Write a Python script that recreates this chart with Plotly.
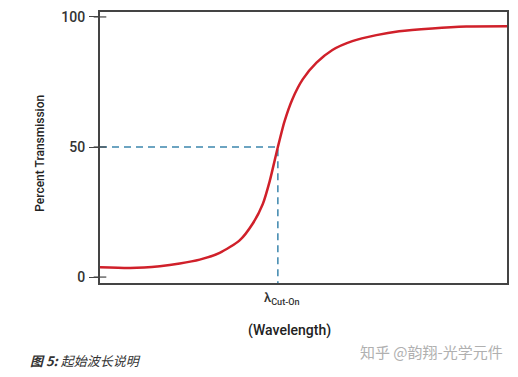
import plotly.graph_objects as go

# Data (arbitrary wavelength units, 0-100 across the plot)
wavelength = [0, 7.4, 14.7, 19.6, 24.5, 29.4, 34.3, 37.5, 40.0, 41.7, 43.7,
              45.3, 47.3, 49.8, 53.2, 57.1, 62.0, 67.9, 73.5, 81.6, 90.0, 100]
transmission = [3.8, 3.5, 4.2, 5.2, 6.7, 9.3, 14.1, 20.5, 28.1, 36.9, 50.0,
                59.7, 68.5, 76.0, 82.4, 87.3, 90.7, 93.0, 94.5, 95.6, 96.3, 96.4]
cut_on = 43.7
half_level = 50
y_ticks = [0, 50, 100]

FONT = "Roboto, Liberation Sans, sans-serif"
Y_RANGE = [-2.28, 101.9]

fig = go.Figure()

fig.add_trace(go.Scatter(
    x=[0, cut_on, cut_on], y=[half_level, half_level, Y_RANGE[0]],
    mode="lines", line=dict(color="#3c86ad", width=1.5, dash="7px,5px"),
    hoverinfo="skip", showlegend=False))

fig.add_trace(go.Scatter(
    x=wavelength, y=transmission, mode="lines",
    line=dict(color="#d0202a", width=2.5, shape="spline", smoothing=0.6),
    showlegend=False))

# inner part of the crossing y ticks
fig.add_trace(go.Scatter(
    x=[0] * len(y_ticks), y=y_ticks, mode="markers", cliponaxis=False,
    marker=dict(symbol="line-ew", size=9, line=dict(color="#444", width=1.2)),
    hoverinfo="skip", showlegend=False))

fig.update_xaxes(range=[0, 100], showgrid=False, zeroline=False,
                 showline=True, linecolor="#444", linewidth=2, mirror=True,
                 showticklabels=False, ticks="")
fig.update_yaxes(range=Y_RANGE, showgrid=False, zeroline=False,
                 showline=True, linecolor="#444", linewidth=2, mirror=True,
                 tickvals=y_ticks, ticks="outside", ticklen=9, tickwidth=1.2,
                 tickcolor="#444", ticklabelstandoff=1,
                 tickfont=dict(family=FONT, size=14, color="#333", weight=500))

fig.add_annotation(x=cut_on, y=0, xref="x", yref="paper", yshift=-5, xshift=4,
                   text="λ<sub>Cut-On</sub>", showarrow=False, yanchor="top",
                   font=dict(family=FONT, size=13, color="#333", weight=500))
fig.add_annotation(x=0.465, y=0, xref="paper", yref="paper", yshift=-37,
                   text="(Wavelength)", showarrow=False, yanchor="top",
                   font=dict(family=FONT, size=14, color="#222", weight=500))
fig.add_annotation(x=-0.17, y=0.48, xref="paper", yref="paper",
                   text="Percent Transmission", showarrow=False, textangle=-90,
                   font=dict(family=FONT, size=12, color="#222", weight=500))
fig.add_annotation(x=28, y=361, xref="paper", yref="paper",
                   text="<b><i>图 5:</i></b> <i>起始波长说明</i>", showarrow=False,
                   xanchor="left", yanchor="middle",
                   font=dict(family="Noto Sans CJK SC", size=13, color="#333"))
fig.add_annotation(x=506, y=352, xref="paper", yref="paper",
                   text="知乎 @韵翔-光学元件", showarrow=False,
                   xanchor="right", yanchor="middle",
                   font=dict(family="Noto Sans CJK SC", size=15, color="#b0b0b0"))

# convert pixel-placed annotations into paper coords
pl, pr, pt, pb = 100, 10, 9, 94
W, H = 518, 377
pw, ph = W - pl - pr, H - pt - pb
for a in fig.layout.annotations[3:]:
    a.x = (a.x - pl) / pw
    a.y = (H - pb - a.y) / ph

fig.update_layout(width=W, height=H, margin=dict(l=pl, r=pr, t=pt, b=pb),
                  plot_bgcolor="white", paper_bgcolor="white")

fig.write_html("out.html")
